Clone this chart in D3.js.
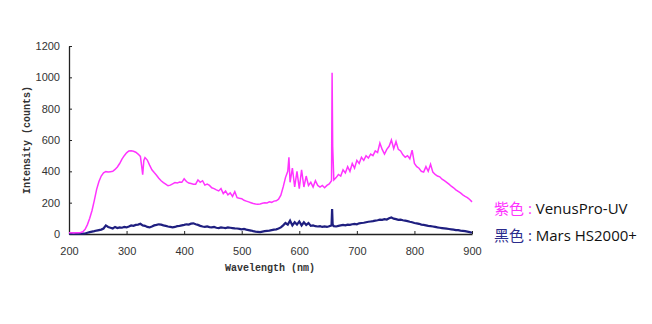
<!DOCTYPE html>
<html>
<head>
<meta charset="utf-8">
<script src="https://cdn.jsdelivr.net/npm/d3@7"></script>
<style>
  body { margin: 0; background: #fff; }
  svg { display: block; }
</style>
</head>
<body>
<svg id="chart" width="652" height="324"></svg>
<script>
// Data
var xTicks = [200, 300, 400, 500, 600, 700, 800, 900];
var yTicks = [0, 200, 400, 600, 800, 1000, 1200];

// [wavelength nm, counts]
var venusPro = [
  [200,8],[204,8],[208,7],[212,8],[216,8],[220,10],[224,14],[228,30],[232,60],[236,100],
  [240,150],[244,215],[248,285],[252,335],[256,370],[260,390],[264,398],[268,396],[272,398],[276,400],
  [280,412],[284,428],[288,450],[292,478],[296,500],[300,518],[304,530],[308,532],[312,528],[316,522],
  [320,510],[324,495],[326,440],[328,378],[330,470],[332,488],[336,472],[340,440],[344,410],[348,392],
  [352,375],[356,356],[360,340],[364,328],[368,318],[372,308],[376,312],[380,320],[384,328],[388,325],
  [392,332],[396,330],[400,352],[404,335],[408,325],[412,322],[416,318],[420,318],[424,345],[428,330],
  [432,340],[436,312],[440,318],[444,310],[448,295],[452,290],[456,282],[460,275],[464,290],[468,258],
  [472,275],[476,250],[480,262],[484,240],[488,270],[492,232],[496,228],[500,225],[504,215],[508,210],
  [512,205],[516,200],[520,195],[524,192],[528,190],[532,192],[536,196],[540,200],[544,198],[548,205],
  [552,202],[556,210],[560,212],[564,222],[568,248],[572,300],[576,360],[580,400],[582,490],[584,330],
  [588,420],[592,300],[596,400],[600,290],[604,410],[608,300],[612,370],[616,310],[620,330],[624,300],
  [628,340],[632,310],[636,300],[640,310],[644,295],[648,310],[652,320],[656,340],[657,1030],[658,560],
  [660,345],[664,360],[668,380],[672,370],[676,410],[680,390],[684,430],[688,400],[692,450],[696,420],
  [700,470],[704,450],[708,490],[712,470],[716,500],[720,485],[724,510],[728,500],[732,530],[736,520],
  [740,580],[744,540],[748,510],[752,540],[756,560],[760,600],[764,545],[768,590],[772,540],[776,530],
  [780,505],[784,490],[788,500],[792,480],[796,535],[800,450],[804,430],[808,420],[812,400],[816,395],
  [820,430],[824,400],[828,445],[832,395],[836,380],[840,370],[844,365],[848,350],[852,340],[856,330],
  [860,318],[864,305],[868,295],[872,282],[876,272],[880,262],[884,250],[888,240],[892,232],[896,220],
  [900,205]
];

var marsHS = [
  [200,2],[204,2],[208,2],[212,2],[216,2],[220,2],[224,2],[228,3],[232,8],[236,12],
  [240,15],[244,18],[248,22],[252,25],[256,28],[260,35],[264,55],[268,45],[272,40],[276,35],
  [280,45],[284,38],[288,42],[292,40],[296,45],[300,42],[304,48],[308,55],[312,52],[316,58],
  [320,60],[324,65],[328,55],[332,52],[336,45],[340,42],[344,48],[348,55],[352,58],[356,62],
  [360,60],[364,55],[368,52],[372,48],[376,45],[380,42],[384,45],[388,50],[392,52],[396,55],
  [400,58],[404,62],[408,60],[412,66],[416,68],[420,62],[424,58],[428,52],[432,48],[436,45],
  [440,48],[444,44],[448,42],[452,45],[456,40],[460,38],[464,42],[468,40],[472,38],[476,42],
  [480,40],[484,38],[488,36],[492,35],[496,33],[500,30],[504,32],[508,28],[512,25],[516,22],
  [520,18],[524,15],[528,14],[532,12],[536,15],[540,18],[544,20],[548,22],[552,25],[556,28],
  [560,30],[564,35],[568,42],[572,55],[576,70],[580,60],[584,85],[588,55],[592,75],[596,60],
  [600,80],[604,55],[608,75],[612,58],[616,70],[620,52],[624,55],[628,50],[632,48],[636,50],
  [640,45],[644,48],[648,45],[652,50],[656,55],[657,160],[658,60],[660,50],[664,48],[668,52],
  [672,55],[676,58],[680,55],[684,60],[688,58],[692,62],[696,65],[700,62],[704,68],[708,70],
  [712,72],[716,75],[720,78],[724,80],[728,82],[732,85],[736,88],[740,92],[744,90],[748,95],
  [752,92],[756,100],[760,105],[764,98],[768,95],[772,90],[776,92],[780,88],[784,85],[788,82],
  [792,78],[796,75],[800,70],[804,68],[808,65],[812,60],[816,58],[820,55],[824,52],[828,50],
  [832,48],[836,45],[840,42],[844,40],[848,38],[852,36],[856,34],[860,32],[864,30],[868,28],
  [872,25],[876,25],[880,22],[884,20],[888,18],[892,15],[896,12],[900,8]
];

var legendLabels = [
  { tag: "紫色", name: "VenusPro-UV", color: "#ff33ff" },
  { tag: "黑色", name: "Mars HS2000+", color: "#2b2b8c" }
];

// Layout
var plotLeft = 69, plotRight = 472, plotTop = 46, plotBottom = 234;
var svg = d3.select("#chart");

var x = d3.scaleLinear().domain([200, 900]).range([plotLeft, plotRight]);
var y = d3.scaleLinear().domain([0, 1200]).range([plotBottom, plotTop]);

// ## Axes
var xAxis = d3.axisBottom(x).tickValues(xTicks).tickSize(-3).tickSizeOuter(0)
    .tickPadding(13).tickFormat(d3.format("d"));
var yAxis = d3.axisLeft(y).tickValues(yTicks).tickSize(-3).tickSizeOuter(0)
    .tickPadding(9).tickFormat(d3.format("d"));

var gx = svg.append("g").attr("transform", "translate(0," + plotBottom + ")").call(xAxis);
var gy = svg.append("g").attr("transform", "translate(" + plotLeft + ",0)").call(yAxis);

[gx, gy].forEach(function(g){
    g.select(".domain").attr("stroke", "#222").attr("stroke-width", 1.3);
    g.selectAll(".tick line").attr("stroke", "#222");
    g.selectAll(".tick text")
        .attr("fill", "#333")
        .style("font-family", "'Liberation Sans', Arial, sans-serif")
        .style("font-size", "11px");
});

// ## Axis titles
svg.append("text")
    .attr("x", 270).attr("y", 271)
    .attr("text-anchor", "middle")
    .style("font-family", "'Liberation Mono', 'DejaVu Sans Mono', monospace")
    .style("font-size", "10px")
    .style("font-weight", "bold")
    .attr("fill", "#333")
    .text("Wavelength (nm)");

svg.append("text")
    .attr("transform", "translate(30,140) rotate(-90)")
    .attr("text-anchor", "middle")
    .style("font-family", "'Liberation Mono', 'DejaVu Sans Mono', monospace")
    .style("font-size", "10px")
    .style("font-weight", "bold")
    .attr("fill", "#333")
    .text("Intensity (counts)");

// ## Lines
var line = d3.line()
    .x(function(d){ return x(d[0]); })
    .y(function(d){ return y(d[1]); });

svg.append("path")
    .datum(marsHS)
    .attr("fill", "none")
    .attr("stroke", "#1f1f80")
    .attr("stroke-width", 2.2)
    .attr("d", line);

svg.append("path")
    .datum(venusPro)
    .attr("fill", "none")
    .attr("stroke", "#ff33ff")
    .attr("stroke-width", 1.5)
    .attr("d", line);

// ## Legend
legendLabels.forEach(function(l, i){
    var t = svg.append("text")
        .attr("x", 494).attr("y", 214 + i * 27)
        .style("font-family", "'Open Sans', 'Noto Sans CJK SC', sans-serif")
        .style("font-size", "15px");
    t.append("tspan").attr("fill", l.color).text(l.tag + " : ");
    t.append("tspan").attr("fill", "#111").text(l.name);
});
</script>
</body>
</html>
